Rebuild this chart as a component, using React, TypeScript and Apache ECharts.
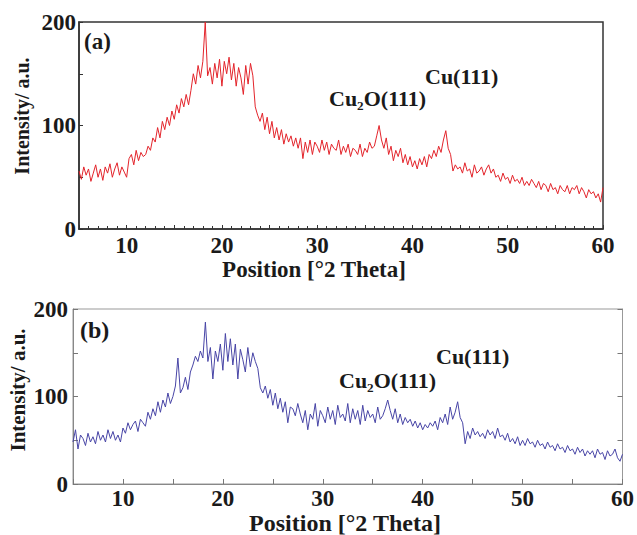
import React, { useEffect, useRef } from "react";
import * as echarts from "echarts";

const X_START = 5;
const X_STEP = 0.25;

const seriesA: number[] = [
  56, 48, 60, 52, 58, 46, 54, 62, 50, 58, 47, 60, 54, 63, 50, 58, 64, 52, 60, 55,
  50, 68, 72, 62, 76, 66, 74, 70, 72, 80, 76, 88, 84, 98, 88, 104, 96, 108, 100, 114,
  106, 120, 112, 126, 118, 130, 120, 134, 150, 140, 158, 146, 162, 200, 148, 156,
  140, 160, 146, 164, 138, 162, 150, 166, 144, 160, 138, 156, 146, 130, 158, 140,
  160, 148, 118, 110, 104, 112, 96, 108, 92, 104, 88, 98, 86, 96, 82, 92, 84, 90, 80, 88,
  78, 88, 68, 84, 74, 86, 72, 84, 80, 74, 86, 76, 84, 72, 82, 78, 76, 86, 72, 80,
  74, 82, 70, 78, 76, 72, 82, 70, 78, 74, 84, 78, 80, 90, 100, 86, 78, 88, 72, 80,
  66, 76, 70, 78, 64, 72, 62, 70, 60, 66, 58, 68, 62, 70, 60, 72, 68, 76, 70, 80,
  74, 86, 95, 78, 72, 56, 62, 58, 60, 54, 64, 56, 58, 50, 62, 54, 56, 60, 52, 58,
  62, 54, 58, 50, 52, 46, 54, 48, 50, 44, 52, 46, 48, 44, 50, 42, 46, 42, 48, 44,
  40, 46, 38, 44, 42, 36, 44, 38, 40, 34, 42, 38, 36, 42, 34, 40, 38, 42, 34, 40,
  36, 30, 38, 34, 36, 30, 34, 26, 40,
];

const seriesB: number[] = [
  48, 62, 40, 56, 52, 44, 58, 48, 54, 46, 60, 50, 56, 48, 62, 52, 60, 50, 56, 48,
  64, 58, 70, 62, 68, 72, 60, 74, 70, 66, 82, 74, 86, 78, 94, 82, 96, 88, 104, 92,
  100, 112, 144, 104, 110, 122, 108, 128, 136, 146, 140, 152, 144, 185, 140, 156,
  120, 152, 140, 160, 130, 172, 140, 166, 136, 160, 120, 154, 142, 128, 156, 134,
  150, 140, 132, 110, 104, 112, 98, 108, 90, 104, 86, 98, 82, 94, 70, 88, 86, 78, 92, 80,
  70, 84, 62, 80, 74, 92, 66, 84, 78, 70, 88, 74, 84, 68, 90, 76, 80, 72, 92, 70,
  86, 74, 84, 68, 90, 72, 84, 76, 80, 70, 88, 74, 78, 86, 96, 84, 74, 86, 70, 80,
  68, 76, 70, 74, 66, 72, 64, 70, 62, 68, 64, 70, 66, 72, 62, 76, 70, 80, 68, 88,
  74, 82, 94, 76, 70, 46, 60, 52, 64, 56, 60, 54, 58, 52, 62, 56, 60, 52, 64, 54,
  56, 50, 58, 48, 52, 46, 54, 44, 50, 44, 52, 46, 48, 42, 50, 44, 46, 40, 48, 42,
  44, 38, 46, 40, 42, 36, 44, 38, 40, 34, 42, 36, 40, 32, 38, 34, 38, 30, 40, 34,
  36, 28, 38, 32, 34, 40, 30, 26, 34,
];

const xTickLabels = ["10", "20", "30", "40", "50", "60"];
const yTickLabels = ["0", "100", "200"];
const peakLabels = ["Cu\u2082O(111)", "Cu(111)"];
const panelLabels = ["(a)", "(b)"];
const xTitle = "Position [\u00b02 Theta]";
const yTitle = "Intensity/ a.u.";

const FONT = "'Liberation Serif', 'Times New Roman', serif";

function toPairs(vals: number[]): [number, number][] {
  return vals.map((v, i) => [X_START + i * X_STEP, v]);
}

export default function App() {
  const ref = useRef<HTMLDivElement>(null);
  useEffect(() => {
    if (!ref.current) return;
    const chart = echarts.init(ref.current, undefined, { renderer: "svg" });
    const labelStyle = {
      fontFamily: FONT,
      fontWeight: "bold" as const,
      fontSize: 23,
      color: "#1a1a1a",
    };
    const xLabelFmt = (v: number) =>
      xTickLabels.includes(String(Math.round(v))) && Math.abs(v - Math.round(v)) < 1e-6
        ? String(Math.round(v))
        : "";
    const yLabelFmt = (v: number) => (yTickLabels.includes(String(v)) ? String(v) : "");

    const option: any = {
      animation: false,
      backgroundColor: "#ffffff",
      grid: [
        { left: 79, top: 22, width: 524, height: 207, show: true, borderColor: "#333", borderWidth: 1.5, backgroundColor: "transparent" },
        { left: 73, top: 309, width: 556, height: 175, show: true, borderColor: "#999", borderWidth: 1, backgroundColor: "transparent" },
      ],
      xAxis: [
        {
          gridIndex: 0, type: "value", min: 5, max: 60, interval: 5,
          axisLine: { lineStyle: { color: "#333", width: 1.5 } },
          axisTick: { inside: true, length: 4, lineStyle: { color: "#333" } },
          minorTick: { show: true, splitNumber: 5, length: 3, lineStyle: { color: "#333" } },
          splitLine: { show: false },
          axisLabel: { ...labelStyle, margin: 5, formatter: xLabelFmt },
        },
        {
          gridIndex: 1, type: "value", min: 5, max: 60, interval: 5,
          axisLine: { lineStyle: { color: "#888", width: 1 } },
          axisTick: { inside: true, length: 5, lineStyle: { color: "#777" } },
          splitLine: { show: false },
          axisLabel: { ...labelStyle, margin: 3, formatter: xLabelFmt },
        },
      ],
      yAxis: [
        {
          gridIndex: 0, type: "value", min: 0, max: 200, interval: 50,
          axisLine: { show: true, lineStyle: { color: "#333", width: 1.5 } },
          axisTick: { show: true, inside: true, length: 4, lineStyle: { color: "#333" } },
          splitLine: { show: false },
          axisLabel: { ...labelStyle, margin: 3, formatter: yLabelFmt },
        },
        {
          gridIndex: 1, type: "value", min: 0, max: 200, interval: 50,
          axisLine: { show: true, lineStyle: { color: "#888", width: 1 } },
          axisTick: { show: true, inside: true, length: 5, lineStyle: { color: "#777" } },
          splitLine: { show: false },
          axisLabel: { ...labelStyle, margin: 5, formatter: yLabelFmt },
        },
        {
          gridIndex: 1, type: "value", min: 0, max: 200, interval: 50, position: "right",
          axisLine: { show: true, lineStyle: { color: "#999", width: 1 } },
          axisTick: { show: true, inside: true, length: 5, lineStyle: { color: "#777" } },
          splitLine: { show: false },
          axisLabel: { show: false },
        },
      ],
      series: [
        {
          type: "line", xAxisIndex: 0, yAxisIndex: 0, data: toPairs(seriesA),
          showSymbol: false, symbol: "none", lineStyle: { color: "#e3242b", width: 1 },
        },
        {
          type: "line", xAxisIndex: 1, yAxisIndex: 1, data: toPairs(seriesB),
          showSymbol: false, symbol: "none", lineStyle: { color: "#4845a6", width: 1 },
        },
      ],
      graphic: [
        { type: "text", left: 84, top: 30, style: { text: panelLabels[0], font: `bold 23px ${FONT}`, fill: "#1a1a1a" } },
        { type: "text", left: 80, top: 318, style: { text: panelLabels[1], font: `bold 24px ${FONT}`, fill: "#1a1a1a" } },
        { type: "text", left: 329, top: 87, style: { text: peakLabels[0], font: `bold 22px ${FONT}`, fill: "#1a1a1a" } },
        { type: "text", left: 425, top: 65, style: { text: peakLabels[1], font: `bold 22px ${FONT}`, fill: "#1a1a1a" } },
        { type: "text", left: 339, top: 369, style: { text: peakLabels[0], font: `bold 22px ${FONT}`, fill: "#1a1a1a" } },
        { type: "text", left: 436, top: 345, style: { text: peakLabels[1], font: `bold 22px ${FONT}`, fill: "#1a1a1a" } },
        { type: "text", x: 314, y: 269, style: { text: xTitle, font: `bold 23px ${FONT}`, fill: "#1a1a1a", align: "center", verticalAlign: "middle" } },
        { type: "text", x: 345, y: 523, style: { text: xTitle, font: `bold 24px ${FONT}`, fill: "#1a1a1a", align: "center", verticalAlign: "middle" } },
        { type: "text", x: 22, y: 116, rotation: Math.PI / 2, style: { text: yTitle, font: `bold 20px ${FONT}`, fill: "#1a1a1a", align: "center", verticalAlign: "middle" } },
        { type: "text", x: 18, y: 390, rotation: Math.PI / 2, style: { text: yTitle, font: `bold 21px ${FONT}`, fill: "#1a1a1a", align: "center", verticalAlign: "middle" } },
      ],
    };
    chart.setOption(option);
    return () => chart.dispose();
  }, []);
  return (
    <div
      ref={ref}
      style={{ position: "absolute", left: 0, top: 0, width: 637, height: 535 }}
    />
  );
}
